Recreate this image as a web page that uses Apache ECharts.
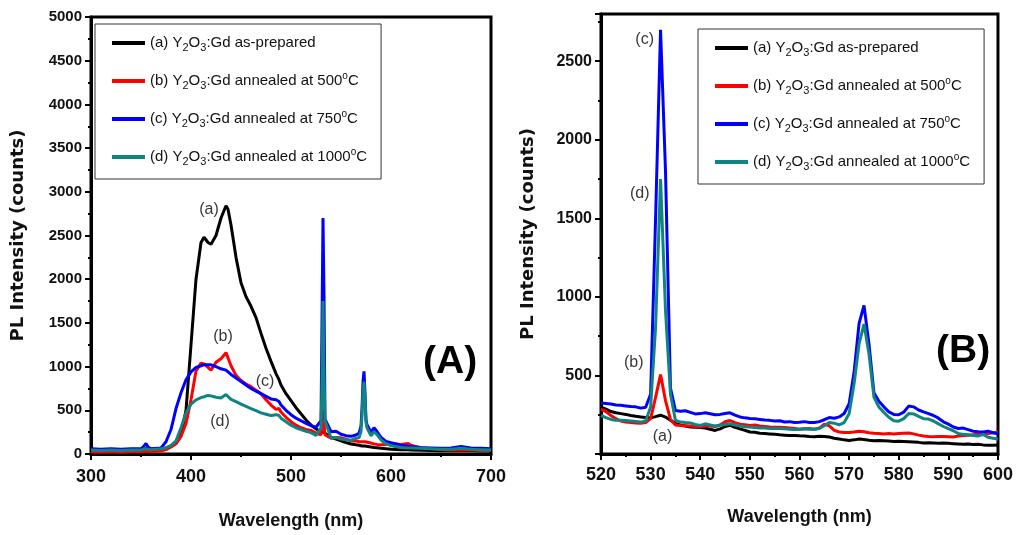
<!DOCTYPE html>
<html>
<head>
<meta charset="utf-8">
<script src="https://cdn.jsdelivr.net/npm/echarts@6/dist/echarts.min.js"></script>
<style>
  html, body { margin: 0; padding: 0; background: #fff; }
  #chart { width: 1016px; height: 535px; }
</style>
</head>
<body>
<div id="chart"></div>
<script>
// series names (plain) and their legend text with sub/superscripts
const seriesNames = [
  '(a) Y2O3:Gd as-prepared',
  '(b) Y2O3:Gd annealed at 500oC',
  '(c) Y2O3:Gd annealed at 750oC',
  '(d) Y2O3:Gd annealed at 1000oC'
];
const legendRich = [
  '(a) Y{sub|2}O{sub|3}:Gd as-prepared',
  '(b) Y{sub|2}O{sub|3}:Gd annealed at 500{sup|o}C',
  '(c) Y{sub|2}O{sub|3}:Gd annealed at 750{sup|o}C',
  '(d) Y{sub|2}O{sub|3}:Gd annealed at 1000{sup|o}C'
];
const colors = ['#000000', '#ff0000', '#0000ff', '#0e8580'];

// ---- panel (A): full spectrum 300-700 nm ----
const xA = [300,310,320,330,340,350,353,355,357,360,
  370,375,380,385,390,395,400,405,410,
  413,417,420,425,430,435,437,440,445,450,
  455,460,465,470,475,480,485,488,490,495,500,
  505,510,515,520,525,530,531,532,533,534,
  540,545,550,555,560,565,568,570,571,572,
  573,574,575,576,580,583,586,590,595,600,
  610,617,620,630,640,650,660,670,680,690,700];
const aA = [50,45,50,45,50,55,60,65,60,55,
  60,70,85,120,220,500,1250,2000,2420,
  2480,2420,2400,2500,2700,2840,2800,2620,2250,1960,
  1800,1690,1560,1380,1210,1060,920,850,790,690,610,
  530,460,390,330,290,250,250,255,245,240,
  190,170,150,130,115,105,100,95,92,95,
  100,92,88,85,80,75,72,65,60,55,
  50,48,45,42,40,38,38,40,38,35,35];
const bA = [25,20,25,20,25,25,30,40,30,25,
  35,50,80,120,200,350,620,950,1040,
  1030,990,960,1050,1090,1160,1150,1010,900,840,
  800,770,730,690,620,560,510,520,480,420,370,
  330,300,280,270,240,220,360,500,340,220,
  180,190,185,170,150,150,140,140,140,142,
  145,140,130,125,125,115,110,105,110,120,
  110,120,100,70,60,50,45,50,45,40,40];
const cA = [60,55,60,55,60,60,90,120,80,60,
  70,140,280,520,700,850,940,990,1010,
  1020,1020,1020,1000,975,960,940,910,870,830,
  790,750,720,690,660,630,620,600,560,500,450,
  410,380,350,325,306,380,1500,2700,1800,400,
  255,260,226,210,202,218,236,320,520,830,
  946,700,390,335,250,300,257,190,145,128,
  100,90,85,75,70,65,70,85,70,65,60];
const dA = [45,40,45,40,45,45,60,80,55,50,
  60,70,100,150,300,470,570,620,645,
  655,670,665,650,640,680,665,625,600,570,
  545,520,495,470,455,440,450,440,410,370,330,
  300,280,260,245,213,299,808,1750,914,380,
  182,188,171,162,158,180,185,256,447,700,
  827,638,362,299,209,255,222,161,118,95,
  75,70,70,65,60,55,55,65,55,50,45];

// ---- panel (B): zoom 520-600 nm ----
const xB = [520,521,522,523,524,525,526,527,528,529,
  530,531,532,533,534,535,536,537,538,539,
  540,541,542,543,544,545,546,547,548,549,
  550,551,552,553,554,555,556,557,558,559,
  560,561,562,563,564,565,566,567,568,569,
  570,571,572,573,574,575,576,577,578,579,
  580,581,582,583,584,585,586,587,588,589,
  590,591,592,593,594,595,596,597,598,599,600];
const aB = [298,285,270,262,257,252,245,240,236,232,
  230,238,247,235,215,195,185,178,172,170,
  168,165,158,150,160,175,182,170,160,150,
  140,138,132,130,128,125,122,120,118,118,
  116,115,112,110,113,112,108,100,95,90,
  86,90,95,92,88,85,86,84,82,80,
  81,80,78,76,74,70,72,70,68,70,
  68,66,64,62,63,60,62,58,56,55,58];
const bB = [285,270,245,225,210,203,200,198,195,200,
  225,360,505,340,220,185,182,180,178,175,
  172,180,178,175,185,205,213,200,190,186,
  182,184,178,175,172,171,170,168,165,162,
  158,160,162,158,165,190,180,150,140,137,
  137,140,145,142,135,132,130,128,130,128,
  130,132,133,128,120,115,112,110,112,112,
  110,108,115,118,120,122,125,128,130,135,139];
const cB = [325,322,318,312,310,306,302,300,292,298,
  380,1500,2700,1800,420,277,272,275,265,255,
  257,262,256,250,252,258,262,248,236,230,
  226,224,220,216,214,210,212,204,206,200,
  202,206,200,200,206,218,232,228,236,258,
  320,520,830,946,700,390,335,300,268,252,
  250,266,305,300,280,268,257,245,228,205,
  190,172,162,165,155,145,142,140,145,135,128];
const dB = [245,232,220,215,214,213,210,207,203,210,
  299,808,1750,914,380,215,203,200,198,188,
  182,192,185,178,182,188,192,185,178,174,
  171,168,166,165,163,162,162,160,158,156,
  158,160,157,158,162,180,200,196,185,200,
  256,447,700,827,638,362,299,265,234,212,
  209,225,257,255,240,225,222,210,192,175,
  161,148,130,125,122,118,114,125,107,100,95];

// curve labels, placed in data coordinates
const notesA = [[418, 2800, '(a)'], [432, 1340, '(b)'], [474, 825, '(c)'], [429, 366, '(d)']];
const notesB = [[528.8, 2634, '(c)'], [527.8, 1659, '(d)'], [526.6, 583, '(b)'], [532.4, 111, '(a)']];

const zip = (xs, ys) => xs.map((x, i) => [x, ys[i]]);
const valsA = [aA, bA, cA, dA];
const valsB = [aB, bB, cB, dB];

const sans = "'Liberation Sans', Arial, sans-serif";
const heavy = "'DejaVu Sans', sans-serif";

function legendFor(left, top) {
  return {
    orient: 'vertical', left: left, top: top,
    data: seriesNames, selectedMode: false,
    icon: 'rect', itemWidth: 33, itemHeight: 4, itemGap: 18,
    padding: [9, 14, 12, 17],
    borderColor: '#333', borderWidth: 1,
    formatter: name => legendRich[seriesNames.indexOf(name)],
    textStyle: {
      fontFamily: sans, fontSize: 15, color: '#111', lineHeight: 20,
      rich: {
        sub: { fontFamily: sans, fontSize: 11, lineHeight: 12, verticalAlign: 'bottom', color: '#111' },
        sup: { fontFamily: sans, fontSize: 10, lineHeight: 10, verticalAlign: 'top', color: '#111' }
      }
    }
  };
}

function xAxisFor(idx, min, max, interval, gap, margin) {
  return {
    gridIndex: idx, type: 'value', min: min, max: max, interval: interval,
    name: 'Wavelength (nm)', nameLocation: 'middle', nameGap: gap,
    nameTextStyle: { fontFamily: sans, fontWeight: 'bold', fontSize: 18, color: '#111' },
    axisLine: { show: true, lineStyle: { color: '#000', width: 3 } },
    axisTick: { show: true, inside: false, length: 6, lineStyle: { color: '#000', width: 2 } },
    minorTick: { show: true, splitNumber: 2, length: 3, lineStyle: { color: '#000', width: 2 } },
    axisLabel: { fontFamily: sans, fontWeight: 'bold', fontSize: 18, color: '#111', margin: margin },
    splitLine: { show: false }
  };
}

function yAxisFor(idx, min, max, interval, labelSize, hideZero) {
  return {
    gridIndex: idx, type: 'value', min: min, max: max, interval: interval,
    name: 'PL Intensity (counts)', nameLocation: 'middle', nameGap: 64,
    nameTextStyle: { fontFamily: heavy, fontWeight: 'bold', fontSize: 18, color: '#111' },
    axisLine: { show: true, lineStyle: { color: '#000', width: 3 } },
    axisTick: { show: true, inside: false, length: 6, lineStyle: { color: '#000', width: 2 } },
    minorTick: { show: true, splitNumber: 2, length: 3, lineStyle: { color: '#000', width: 2 } },
    axisLabel: {
      fontFamily: sans, fontWeight: 'bold', fontSize: labelSize, color: '#111', margin: 9,
      formatter: v => (v % interval !== 0 || (hideZero && v === 0)) ? '' : String(v)
    },
    splitLine: { show: false }
  };
}

const series = [];
[valsA, valsB].forEach((vals, g) => {
  vals.forEach((ys, i) => {
    series.push({
      name: seriesNames[i], type: 'line', xAxisIndex: g, yAxisIndex: g,
      data: zip(g === 0 ? xA : xB, ys),
      showSymbol: false, symbol: 'none',
      lineStyle: { color: colors[i], width: 3 }, itemStyle: { color: colors[i] },
      z: 2 + i
    });
  });
});
[notesA, notesB].forEach((notes, g) => {
  series.push({
    type: 'scatter', xAxisIndex: g, yAxisIndex: g, symbolSize: 0, silent: true,
    data: notes,
    label: {
      show: true, position: 'inside', formatter: p => p.value[2],
      fontFamily: sans, fontSize: 16, color: '#000'
    },
    z: 10
  });
});

const chart = echarts.init(document.getElementById('chart'));
chart.setOption({
  animation: false,
  backgroundColor: '#fff',
  grid: [
    { left: 91, top: 17, width: 400, height: 437, show: true, borderColor: '#000', borderWidth: 3 },
    { left: 601, top: 14, width: 401, height: 440, show: true, borderColor: '#000', borderWidth: 3 }
  ],
  legend: [legendFor(95, 24), legendFor(698, 29)],
  xAxis: [
    xAxisFor(0, 300, 700, 100, 58, 14),
    xAxisFor(1, 520, 600, 10, 54, 12)
  ],
  yAxis: [
    yAxisFor(0, 0, 5000, 500, 15, false),
    yAxisFor(1, 0, 2800, 500, 16, true)
  ],
  graphic: [
    { type: 'text', left: 423, top: 343, style: { text: '(A)', font: "bold 39px 'Liberation Sans', Arial, sans-serif", fill: '#000' } },
    { type: 'text', left: 936, top: 332, style: { text: '(B)', font: "bold 39px 'Liberation Sans', Arial, sans-serif", fill: '#000' } }
  ],
  series: series
});
</script>
</body>
</html>
